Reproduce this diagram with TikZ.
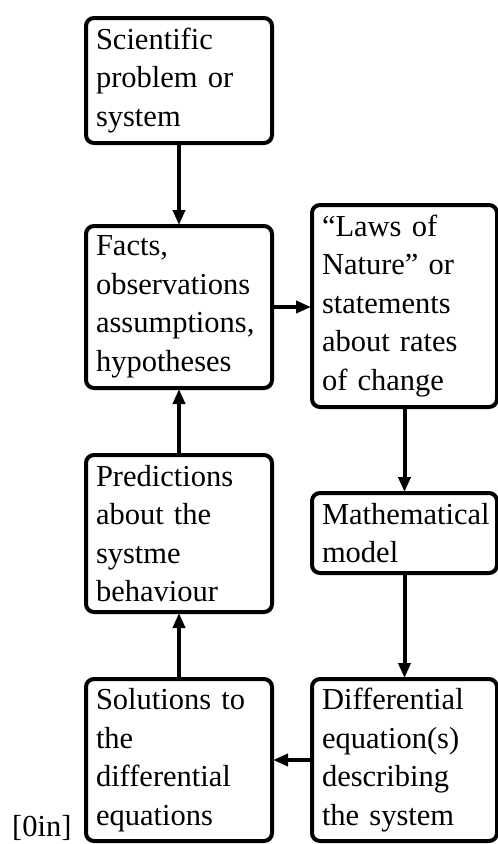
\documentclass[tikz,border=0pt]{standalone}
\usepackage{fontspec}
\setmainfont{Liberation Serif}
\usetikzlibrary{arrows.meta}
\begin{document}
\begin{tikzpicture}[x=1pt,y=-1pt,
  box/.style={draw, line width=4pt, rounded corners=8pt, inner xsep=10pt, inner ysep=0pt,
    align=left, anchor=north west, font=\fontsize{30.5}{38.5}\selectfont},
  arr/.style={line width=4pt, -{Triangle[length=15pt,width=12pt]}, shorten >=-1pt}]
\useasboundingbox (0,0) rectangle (498,844);
\node[box, minimum width=186pt, minimum height=125pt, text width=166pt] (sci) at (84,16) {Scientific\\problem or\\system};
\node[box, minimum width=186pt, minimum height=162pt, text width=166pt] (facts) at (84,224) {Facts,\\observations\\assumptions,\\hypotheses};
\node[box, minimum width=185pt, minimum height=202pt, text width=165pt] (laws) at (310,203) {``Laws of\\Nature'' or\\statements\\about rates\\of change};
\node[box, minimum width=186pt, minimum height=157pt, text width=166pt] (pred) at (84,453) {Predictions\\about the\\systme\\behaviour};
\node[box, minimum width=185pt, minimum height=80pt, text width=165pt] (math) at (310,491) {Mathematical\\model};
\node[box, minimum width=186pt, minimum height=162pt, text width=166pt] (sol) at (84,677) {Solutions to\\the\\differential\\equations};
\node[box, minimum width=185pt, minimum height=162pt, text width=165pt] (diff) at (310,677) {Differential\\equation(s)\\describing\\the system};
\node[anchor=base west, inner sep=0pt, font=\fontsize{30.5}{38.5}\selectfont] (tag) at (12,836) {[0in]};
\draw[arr] (sci.south) -- (facts.north);
\draw[arr] (facts.east) -- (facts.east -| laws.west);
\draw[arr] (laws.south) -- (math.north);
\draw[arr] (math.south) -- (diff.north);
\draw[arr] (diff.west) -- (sol.east);
\draw[arr] (sol.north) -- (pred.south);
\draw[arr] (pred.north) -- (facts.south);
\end{tikzpicture}
\end{document}
